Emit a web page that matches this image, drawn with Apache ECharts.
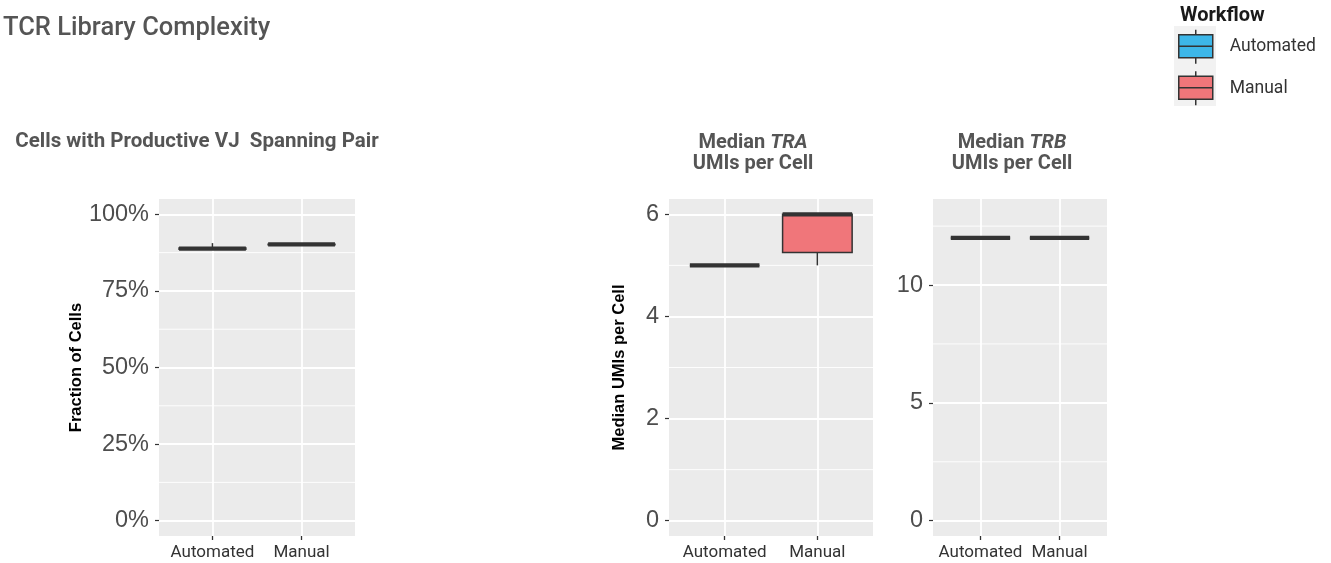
<!DOCTYPE html>
<html><head><meta charset="utf-8">
<script src="https://cdn.jsdelivr.net/npm/echarts@6/dist/echarts.min.js"></script>
<style>html,body{margin:0;padding:0;background:#fff}#c{width:1331px;height:563px}</style>
</head><body><div id="c"></div>
<script>
// ---- data ----
const categories = ['Automated', 'Manual'];
const workflows = ['Automated', 'Manual'];
// box stats: [min, q1, median, q3, max]
const spanningAutomated = [0.885, 0.886, 0.888, 0.890, 0.906];
const spanningManual = [0.901, 0.901, 0.902, 0.902, 0.902];
const traAutomated = [5, 5, 5, 5, 5];
const traManual = [5, 5.25, 6, 6, 6];
const trbAutomated = [12, 12, 12, 12, 12];
const trbManual = [12, 12, 12, 12, 12];
const spanningTicks = [0, 0.25, 0.5, 0.75, 1];
const spanningTickLabels = ['0%', '25%', '50%', '75%', '100%'];
const spanningMinor = [0.125, 0.375, 0.625, 0.875];
const traTicks = [0, 2, 4, 6];
const traMinor = [1, 3, 5];
const trbTicks = [0, 5, 10];
const trbMinor = [2.5, 7.5, 12.5];
const xTicks = [1, 2];

const colors = { Automated: '#3DB7E9', Manual: '#F0767A' };
const DIN = 'Roboto, "DejaVu Sans", sans-serif';
const HELV = '"Liberation Sans", Arial, sans-serif';

const panels = [
  { grid: { left: 159, top: 199, width: 196, height: 337 }, ymin: -0.05, ymax: 1.05,
    ticks: spanningTicks, labels: spanningTickLabels, minor: spanningMinor,
    boxes: { Automated: spanningAutomated, Manual: spanningManual },
    yname: 'Fraction of Cells', nameGap: 74 },
  { grid: { left: 669, top: 199, width: 204, height: 337 }, ymin: -0.3, ymax: 6.3,
    ticks: traTicks, labels: traTicks.map(String), minor: traMinor,
    boxes: { Automated: traAutomated, Manual: traManual },
    yname: 'Median UMIs per Cell', nameGap: 41 },
  { grid: { left: 933, top: 199, width: 174, height: 337 }, ymin: -0.65, ymax: 13.65,
    ticks: trbTicks, labels: trbTicks.map(String), minor: trbMinor,
    boxes: { Automated: trbAutomated, Manual: trbManual },
    yname: '', nameGap: 40 }
];

function renderBox(params, api) {
  const x = api.value(0);
  const lo = api.coord([x, api.value(1)]);
  const q1 = api.coord([x, api.value(2)]);
  const med = api.coord([x, api.value(3)]);
  const q3 = api.coord([x, api.value(4)]);
  const hi = api.coord([x, api.value(5)]);
  const half = api.size([0.75, 0])[0] / 2;
  const cx = med[0];
  const ln = { stroke: '#333333', lineWidth: 1.5 };
  return {
    type: 'group',
    children: [
      { type: 'line', shape: { x1: cx, y1: lo[1], x2: cx, y2: q1[1] }, style: ln },
      { type: 'line', shape: { x1: cx, y1: q3[1], x2: cx, y2: hi[1] }, style: ln },
      { type: 'rect', shape: { x: cx - half, y: q3[1], width: 2 * half, height: q1[1] - q3[1] },
        style: { fill: api.visual('color'), stroke: '#333333', lineWidth: 1.5 } },
      { type: 'line', shape: { x1: cx - half, y1: med[1], x2: cx + half, y2: med[1] },
        style: { stroke: '#333333', lineWidth: 4.2 } }
    ]
  };
}

function renderMinor(params, api) {
  const cs = params.coordSys;
  const p = api.coord([1, api.value(0)]);
  return { type: 'line', shape: { x1: cs.x, y1: p[1], x2: cs.x + cs.width, y2: p[1] },
    style: { stroke: '#FFFFFF', lineWidth: 0.9 }, silent: true };
}

const grids = [], xAxes = [], yAxes = [], series = [];
panels.forEach((p, i) => {
  grids.push(Object.assign({ show: true, backgroundColor: '#EBEBEB', borderWidth: 0 }, p.grid));
  xAxes.push({
    type: 'value', gridIndex: i, min: 0.4, max: 2.6, position: 'bottom',
    axisLine: { show: false, onZero: false },
    axisTick: { show: true, length: 4, customValues: xTicks, lineStyle: { color: '#333333', width: 1.3 } },
    axisLabel: { customValues: xTicks, formatter: v => categories[Math.round(v) - 1] || '',
      color: '#333333', fontFamily: DIN, fontSize: 17, margin: 8 },
    splitLine: { show: true, lineStyle: { color: '#FFFFFF', width: 1.8 } }
  });
  yAxes.push({
    type: 'value', gridIndex: i, min: p.ymin, max: p.ymax, position: 'left',
    name: p.yname, nameLocation: 'middle', nameGap: p.nameGap, nameRotate: 90,
    nameTextStyle: { color: '#000000', fontFamily: HELV, fontWeight: 'bold', fontSize: 16.5 },
    axisLine: { show: false, onZero: false },
    axisTick: { show: true, length: 4, customValues: p.ticks, lineStyle: { color: '#333333', width: 1.2 } },
    axisLabel: { customValues: p.ticks,
      formatter: v => { const k = p.ticks.findIndex(t => Math.abs(t - v) < 1e-9); return k >= 0 ? p.labels[k] : ''; },
      color: '#4D4D4D', fontFamily: HELV, fontSize: 23.5, margin: 10 },
    splitLine: { show: true, lineStyle: { color: '#FFFFFF', width: 1.8 } }
  });
  series.push({
    type: 'custom', name: 'minor' + i, xAxisIndex: i, yAxisIndex: i, z: 1,
    data: p.minor.map(v => [v]), renderItem: renderMinor, silent: true, tooltip: { show: false }
  });
  workflows.forEach((w, k) => {
    series.push({
      type: 'custom', name: w, xAxisIndex: i, yAxisIndex: i, z: 3,
      itemStyle: { color: colors[w] },
      encode: { x: 0, y: [1, 2, 3, 4, 5] },
      data: [[k + 1].concat(p.boxes[w])],
      renderItem: renderBox
    });
  });
});

const subRich = {
  n: { fontFamily: DIN, fontWeight: 'bold', fontSize: 20, color: '#555555', lineHeight: 21 },
  i: { fontFamily: DIN, fontWeight: 'bold', fontStyle: 'italic', fontSize: 20, color: '#555555', lineHeight: 21 }
};

const chart = echarts.init(document.getElementById('c'), null, { renderer: 'canvas' });
chart.setOption({
  animation: false,
  backgroundColor: '#FFFFFF',
  title: [
    { text: 'TCR Library Complexity', left: 3, top: 16, padding: 0,
      textStyle: { fontFamily: DIN, fontWeight: 500, fontSize: 25.5, color: '#555555' } },
    { text: 'Cells with Productive VJ  Spanning Pair', left: 197, top: 131, padding: 0, textAlign: 'center',
      textStyle: { fontFamily: DIN, fontWeight: 'bold', fontSize: 20.5, color: '#555555' } },
    { text: '{n|Median }{i|TRA}\n{n|UMIs per Cell}', left: 753, top: 132, padding: 0, textAlign: 'center',
      textStyle: { rich: subRich } },
    { text: '{n|Median }{i|TRB}\n{n|UMIs per Cell}', left: 1012, top: 132, padding: 0, textAlign: 'center',
      textStyle: { rich: subRich } },
    { text: 'Workflow', left: 1180, top: 6, padding: 0,
      textStyle: { fontFamily: DIN, fontWeight: 'bold', fontSize: 20, color: '#1A1A1A' } }
  ],
  graphic: [
    { type: 'rect', left: 1174, top: 26, shape: { width: 42, height: 80 }, style: { fill: '#F2F2F2' }, z: -1, silent: true }
  ],
  legend: {
    data: workflows, orient: 'vertical', left: 1178, top: 29, padding: 0,
    itemWidth: 34, itemHeight: 34, itemGap: 6,
    icon: 'path://M0,5L34,5L34,28L0,28ZM17,0L17,5M17,28L17,34M0,16.5L34,16.5',
    itemStyle: { borderColor: '#333333', borderWidth: 1.5 },
    textStyle: { fontFamily: DIN, fontSize: 17.5, color: '#333333', padding: [5, 0, 0, 12] },
    selectedMode: false
  },
  grid: grids, xAxis: xAxes, yAxis: yAxes, series: series
});
</script></body></html>
